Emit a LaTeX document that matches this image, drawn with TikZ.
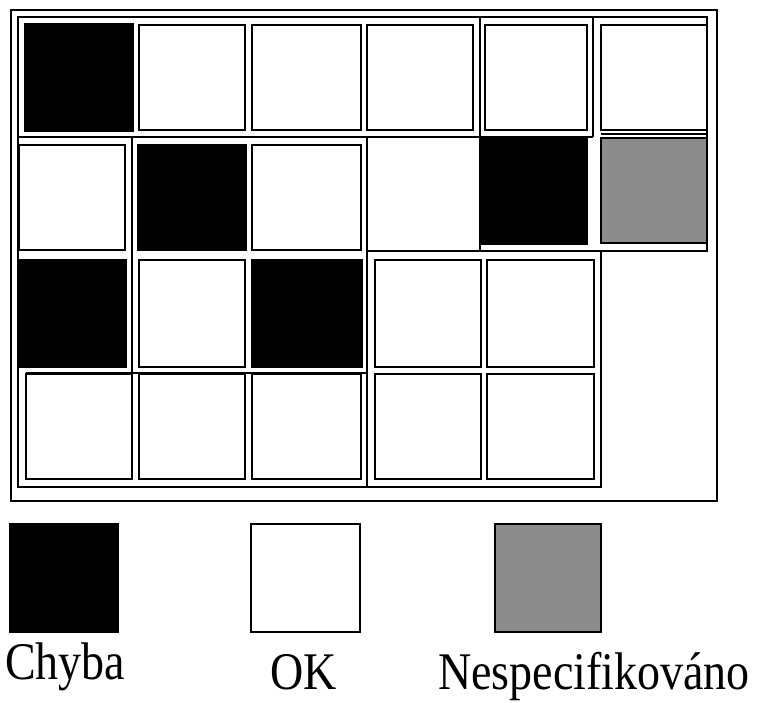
\documentclass[tikz,border=0pt]{standalone}
\usepackage{fontspec}
\setmainfont{Liberation Serif}
\definecolor{midgray}{RGB}{140,140,140}
\begin{document}
\begin{tikzpicture}[x=1pt,y=-1pt,
  frame/.style={draw=black,line width=1.7pt},
  okcell/.style={draw=black,line width=1.7pt,fill=white},
  errcell/.style={draw=black,line width=1.7pt,fill=black},
  nscell/.style={draw=black,line width=1.7pt,fill=midgray},
  lbl/.style={inner sep=0pt,anchor=base west,font=\fontsize{46}{50}\selectfont}]
\useasboundingbox[fill=white] (0,0) rectangle (763,702);
% row 1
\draw[errcell] (25,24) rectangle (133,131);
\draw[okcell] (139,25) rectangle (245,130);
\draw[okcell] (252,25) rectangle (361,130);
\draw[okcell] (367,25) rectangle (473,130);
\draw[okcell] (485,25) rectangle (587,130);
\draw[okcell] (601,25) rectangle (707,130);
% row 2
\draw[okcell] (19,145) rectangle (125,250);
\draw[errcell] (138,145) rectangle (246,250);
\draw[okcell] (252,145) rectangle (361,250);
\draw[errcell] (481,137) rectangle (587,244);
\draw[nscell] (601,138) rectangle (707,243);
% row 3
\draw[errcell] (19,260) rectangle (126,367);
\draw[okcell] (139,260) rectangle (245,367);
\draw[errcell] (252,260) rectangle (362,367);
\draw[okcell] (375,260) rectangle (481,367);
\draw[okcell] (487,260) rectangle (594,367);
% row 4
\draw[okcell] (26,374) rectangle (132,479);
\draw[okcell] (139,374) rectangle (245,479);
\draw[okcell] (252,374) rectangle (361,479);
\draw[okcell] (375,374) rectangle (481,479);
\draw[okcell] (487,374) rectangle (594,479);
% frames
\draw[frame] (11,10) rectangle (717,501);
\draw[frame] (18,17) -- (707,17) -- (707,251) -- (601,251) -- (601,487) -- (18,487) -- cycle;
\draw[frame] (18,137) -- (593,137);
\draw[frame] (480,17) -- (480,251);
\draw[frame] (593,17) -- (593,137);
\draw[frame] (601,134) -- (707,134);
\draw[frame] (367,137) -- (367,487);
\draw[frame] (132,137) -- (132,373);
\draw[frame] (367,251) -- (601,251);
\draw[frame] (26,373) -- (367,373);
% legend
\draw[errcell] (10,524) rectangle (118,632);
\draw[okcell] (251,524) rectangle (360,632);
\draw[nscell] (495,524) rectangle (601,632);
\node[lbl] (chyba) at (5,679) {\scalebox{1}[1.15]{Chyba}};
\node[lbl] (ok) at (270,689) {\scalebox{1}[1.15]{OK}};
\node[lbl] (nesp) at (438,689) {\scalebox{1}[1.15]{Nespecifikováno}};
\end{tikzpicture}
\end{document}
